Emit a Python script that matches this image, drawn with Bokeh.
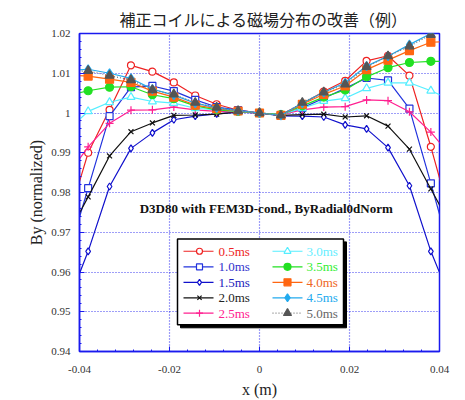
from bokeh.plotting import figure
from bokeh.models import FixedTicker, Range1d
from bokeh.core.properties import value
from bokeh.embed import file_html
from bokeh.resources import INLINE

# Radial sample positions (m); the outermost pair lies just outside the plotted window
x_pos = [-0.04284, -0.03808, -0.03332, -0.02856, -0.02380, -0.01904, -0.01428, -0.00952, -0.00476,
         0.0,
         0.00476, 0.00952, 0.01428, 0.01904, 0.02380, 0.02856, 0.03332, 0.03808, 0.04284]

by_05 = [0.9720, 0.9900, 1.0008, 1.0120, 1.0104, 1.0077, 1.0044, 1.0022, 1.0007, 1.0000,
         0.9996, 1.0023, 1.0054, 1.0081, 1.0131, 1.0144, 1.0094, 0.9915, 0.9720]
by_10 = [0.9630, 0.9811, 0.9992, 1.0065, 1.0068, 1.0055, 1.0033, 1.0015, 1.0007, 1.0000,
         0.9994, 1.0013, 1.0037, 1.0062, 1.0088, 1.0082, 1.0011, 0.9823, 0.9630]
by_15 = [0.9514, 0.9652, 0.9815, 0.9911, 0.9950, 0.9983, 0.9992, 0.9998, 1.0002, 1.0000,
         0.9993, 0.9992, 0.9990, 0.9970, 0.9960, 0.9913, 0.9817, 0.9652, 0.9520]
by_20 = [0.9688, 0.9789, 0.9892, 0.9953, 0.9975, 0.9994, 0.9995, 0.9997, 1.0003, 1.0000,
         0.9994, 0.9996, 0.9997, 0.9990, 0.9993, 0.9967, 0.9909, 0.9809, 0.9710]
by_25 = [0.9840, 0.9915, 0.9974, 1.0007, 1.0008, 1.0015, 1.0008, 1.0004, 1.0003, 1.0000,
         0.9996, 1.0008, 1.0015, 1.0016, 1.0033, 1.0031, 1.0003, 0.9952, 0.9887]
by_30 = [0.9954, 1.0004, 1.0027, 1.0040, 1.0029, 1.0025, 1.0012, 1.0008, 1.0004, 1.0000,
         0.9996, 1.0012, 1.0030, 1.0037, 1.0062, 1.0076, 1.0076, 1.0056, 1.0032]
by_35 = [1.0044, 1.0056, 1.0065, 1.0066, 1.0046, 1.0036, 1.0018, 1.0008, 1.0004, 1.0000,
         0.9996, 1.0018, 1.0040, 1.0058, 1.0091, 1.0114, 1.0127, 1.0130, 1.0130]
by_40 = [1.0095, 1.0093, 1.0085, 1.0077, 1.0055, 1.0040, 1.0020, 1.0011, 1.0005, 1.0000,
         0.9994, 1.0022, 1.0047, 1.0068, 1.0109, 1.0133, 1.0157, 1.0178, 1.0180]
by_45 = [1.0106, 1.0110, 1.0100, 1.0087, 1.0060, 1.0045, 1.0025, 1.0013, 1.0006, 1.0000,
         0.9994, 1.0025, 1.0052, 1.0076, 1.0118, 1.0143, 1.0172, 1.0200, 1.0225]
by_50 = [1.0104, 1.0106, 1.0094, 1.0083, 1.0058, 1.0047, 1.0026, 1.0014, 1.0005, 1.0000,
         0.9994, 1.0026, 1.0052, 1.0072, 1.0116, 1.0143, 1.0168, 1.0197, 1.0222]

labels = ["0.5ms", "1.0ms", "1.5ms", "2.0ms", "2.5ms", "3.0ms", "3.5ms", "4.0ms", "4.5ms", "5.0ms"]
values_all = [by_05, by_10, by_15, by_20, by_25, by_30, by_35, by_40, by_45, by_50]

x_ticks = [-0.04, -0.02, 0.0, 0.02, 0.04]
x_tick_labels = ["-0.04", "-0.02", "0", "0.02", "0.04"]
y_ticks = [0.94, 0.95, 0.96, 0.97, 0.98, 0.99, 1.0, 1.01, 1.02]
y_tick_labels = ["0.94", "0.95", "0.96", "0.97", "0.98", "0.99", "1", "1.01", "1.02"]

title_text = "補正コイルによる磁場分布の改善（例）"

# per-series style: colour, marker, size, filled, dash
styles = [
    ("#ee2222", "circle", 7, False, "solid"),
    ("#2233dd", "square", 7, False, "solid"),
    ("#1111cc", "diamond", 7, False, "solid"),
    ("#111111", "x", 7, False, "solid"),
    ("#ff2090", "cross", 8, False, "solid"),
    ("#55eeff", "triangle", 8, False, "solid"),
    ("#22e022", "circle", 8, True, "solid"),
    ("#ff6611", "square", 8, True, "solid"),
    ("#22aaee", "diamond", 9, True, "solid"),
    ("#555555", "triangle", 9, True, "1 2"),
]
text_colors = ["#ee2222", "#3333cc", "#2222bb", "#222222", "#ff2090",
               "#66eeff", "#33ee33", "#ee6622", "#22aaee", "#666666"]

W, H = 465, 400
L, R, T, B = 79, 439, 33, 355
X0, X1, Y0, Y1 = -0.04, 0.04, 0.94, 1.02

SERIF = "Liberation Serif"
BLUE = "#1a1aee"

p = figure(width=W, height=H, output_backend="svg", toolbar_location=None,
           x_range=Range1d(X0, X1), y_range=Range1d(Y0, Y1),
           min_border_left=L, min_border_right=W - R, min_border_top=T, min_border_bottom=H - B)
p.background_fill_color = "white"
p.border_fill_color = "white"
p.outline_line_color = BLUE
p.outline_line_width = 1.5

p.title.text = title_text
p.title.text_font = "Noto Sans CJK JP"
p.title.text_font_size = "16px"
p.title.text_font_style = "normal"
p.title.text_color = "#222222"
p.title.align = "left"
p.title.offset = 40
p.title.standoff = 6


# pixel offsets converted to data units for the panel furniture
def fx(px):
    return X0 + (px - L) * (X1 - X0) / (R - L)


def fy(py):
    return Y1 - (py - T) * (Y1 - Y0) / (B - T)


x_minor = [X0 + k * 0.004 for k in range(21)]
y_minor = [Y0 + k * 0.002 for k in range(41)]
p.xaxis.ticker = FixedTicker(ticks=x_ticks, minor_ticks=x_minor)
p.yaxis.ticker = FixedTicker(ticks=y_ticks, minor_ticks=y_minor)
p.xaxis.major_label_overrides = dict(zip(x_ticks, x_tick_labels))
p.yaxis.major_label_overrides = dict(zip(y_ticks, y_tick_labels))

for ax in (p.xaxis[0], p.yaxis[0]):
    ax.axis_line_color = BLUE
    ax.axis_line_width = 1.5
    ax.major_tick_line_color = BLUE
    ax.minor_tick_line_color = BLUE
    ax.major_tick_in = 5
    ax.major_tick_out = 0
    ax.minor_tick_in = 2
    ax.minor_tick_out = 0
    ax.major_label_text_font = SERIF
    ax.major_label_text_font_size = "11px"
    ax.major_label_text_color = "#333333"
    ax.axis_label_text_font = SERIF
    ax.axis_label_text_font_size = "16px"
    ax.axis_label_text_font_style = "normal"
    ax.axis_label_text_color = "#222222"

p.xaxis.axis_label = "x (m)"
p.yaxis.axis_label = "By (normalized)"
p.xaxis.major_label_standoff = 14
p.xaxis.axis_label_standoff = 5
p.yaxis.major_label_standoff = 9
p.yaxis.axis_label_standoff = 3

p.grid.grid_line_color = BLUE
p.grid.grid_line_dash = "1 2"
p.grid.grid_line_width = 1.2
p.grid.grid_line_alpha = 0.85

for vals, (col, mk, sz, filled, dash) in zip(values_all, styles):
    line_col = "#777777" if dash != "solid" else col
    p.line(x_pos, vals, line_color=line_col, line_width=1.2, line_dash=dash)
    p.scatter(x_pos, vals, marker=mk, size=sz, line_color=col, line_width=1.2,
              fill_color=col if filled else "white")

# run annotation
p.text(x=[0.0015], y=[0.9760], text=["D3D80 with FEM3D-cond., ByRadial0dNorm"],
       text_font=value(SERIF), text_font_size="13px", text_font_style="bold",
       text_color="#111111", text_align="center", text_baseline="middle")

# legend panel with drop shadow
bx0, bx1, by0, by1 = 177, 343, 241, 328
p.quad(left=[fx(bx0 + 3)], right=[fx(bx1 + 3)], top=[fy(by0 + 3)], bottom=[fy(by1 + 3)],
       fill_color="black", line_color="black")
p.quad(left=[fx(bx0)], right=[fx(bx1)], top=[fy(by0)], bottom=[fy(by1)],
       fill_color="white", line_color="black", line_width=1.5)

row_px = [253.5, 269.3, 285.0, 300.6, 316.2]
col_px = [(183, 213, 199, 218), (272, 302, 287, 306)]
for k, (lab, (col, mk, sz, filled, dash)) in enumerate(zip(labels, styles)):
    c = col_px[k // 5]
    yy = fy(row_px[k % 5])
    line_col = "#777777" if dash != "solid" else col
    p.line([fx(c[0]), fx(c[1])], [yy, yy], line_color=line_col, line_width=1.2, line_dash=dash)
    p.scatter([fx(c[2])], [yy], marker=mk, size=sz - 1, line_color=col, line_width=1.2,
              fill_color=col if filled else "white")
    p.text(x=[fx(c[3])], y=[yy], text=[lab], text_font=value(SERIF), text_font_size="13px",
           text_color=text_colors[k], text_align="left", text_baseline="middle")

open("out.html", "w").write(file_html(p, INLINE))
